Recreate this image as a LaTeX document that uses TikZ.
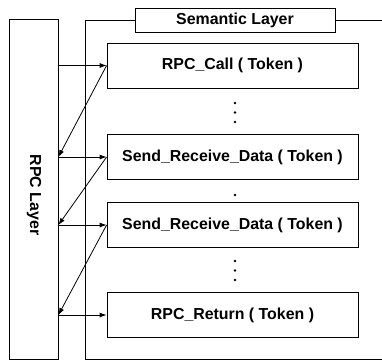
\documentclass[tikz,border=0pt]{standalone}
\usepackage{fontspec}
\setmainfont{Liberation Sans}
\usetikzlibrary{arrows.meta}
\begin{document}
\begin{tikzpicture}[x=1pt,y=-1pt,
  txt/.style={font=\fontsize{15.9}{18}\selectfont\bfseries},
  tokbox/.style={draw, line width=0.8pt, minimum width=251pt, minimum height=45pt, inner sep=0pt, txt},
  conn/.style={line width=0.8pt, -{Latex[length=7pt,width=5pt]}},
  frame/.style={line width=0.7pt},
  dot/.style={fill, circle, inner sep=0pt, minimum size=2.8pt}]
\useasboundingbox (0,0) rectangle (382,362);

% RPC layer column
\node[draw, line width=0.8pt, minimum width=49pt, minimum height=340pt, inner sep=0pt] (rpc) at (33.5,189) {};
\node[txt, rotate=-90] (rpclabel) at (34,195) {RPC Layer};

% semantic layer frame and its title
\node[draw, line width=0.8pt, minimum width=200pt, minimum height=24pt, inner sep=0pt, txt] (sem) at (235,20) {Semantic Layer};
\coordinate (ftl) at (85,20);
\coordinate (fbl) at (85,359);
\coordinate (fbr) at (382,359);
\coordinate (ftr) at (382,20);
\draw[frame] (sem.west) -- (ftl) -- (fbl) -- (fbr);
\draw[frame] (sem.east) -- (ftr);

% token boxes
\node[tokbox] (b1) at (232.5,65.5) {RPC\_Call ( Token )};
\node[tokbox] (b2) at (232.5,157) {Send\_Receive\_Data ( Token )};
\node[tokbox] (b3) at (232.5,225) {Send\_Receive\_Data ( Token )};
\node[tokbox] (b4) at (232.5,315) {RPC\_Return ( Token )};

% ellipses between boxes
\node[dot] (d1) at (235,103) {};
\node[dot] (d2) at (235,112.5) {};
\node[dot] (d3) at (235,122) {};
\node[dot] (d4) at (235,195) {};
\node[dot] (d5) at (235,261) {};
\node[dot] (d6) at (235,270.5) {};
\node[dot] (d7) at (235,280) {};

% calls from the RPC layer and returns to it
\coordinate (p1) at (rpc.east |- b1.west);
\coordinate (p2) at (rpc.east |- b2.west);
\coordinate (p3) at (rpc.east |- b3.west);
\coordinate (p4) at (rpc.east |- b4.west);
\draw[conn] (p1) -- (b1.west);
\draw[conn] (p2) -- (b2.west);
\draw[conn] (p3) -- (b3.west);
\draw[conn] (p4) -- (b4.west);
\draw[conn] (b1.west) -- (p2);
\draw[conn] (b2.west) -- (p3);
\draw[conn] (b3.west) -- (p4);
\end{tikzpicture}
\end{document}
